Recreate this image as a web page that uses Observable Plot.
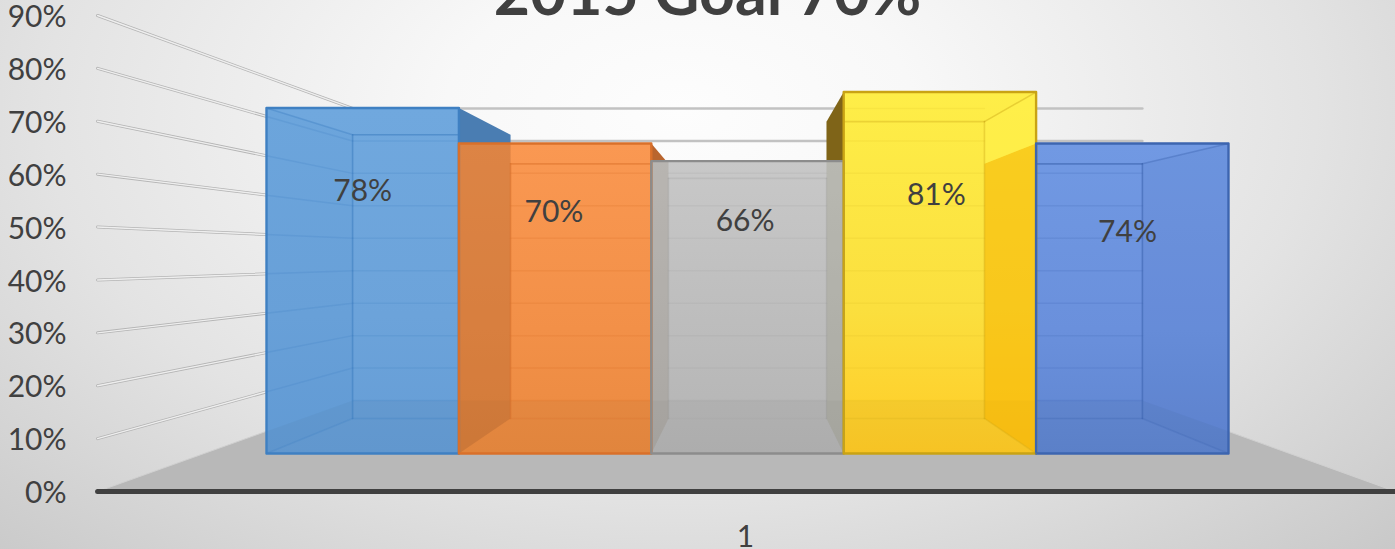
<!DOCTYPE html>
<html><head><meta charset="utf-8">
<script src="https://cdn.jsdelivr.net/npm/d3@7"></script>
<script src="https://cdn.jsdelivr.net/npm/@observablehq/plot@0.6"></script>
<style>html,body{margin:0;padding:0;overflow:hidden}svg{display:block}</style>
</head><body><div id="chart"></div>
<script>
// ---- data
const titleText = "2015 Goal 70%";
const categoryLabel = "1";
const yTicks = [0,10,20,30,40,50,60,70,80,90];
const barHeights = [78,70,66,81.6,70];
const barLabels = ["78%","70%","66%","81%","74%"];

// ---- styles and geometry of the 3-D view (in scale units: x = bar slots, y = percent)
const topCol  = ["#70a8de","#fa9852","#c8c8c8","#feee48","#7199e3"];
const midCol  = ["#6ca3da","#f29048","#bcbcbc","#fbdf3e","#6a90dc"];
const botCol  = ["#659dd6","#ea8a40","#b4b4b4","#ffcb26","#5f85d0"];
const edgeCol = ["#3f80c2","#d9702a","#8c8c8c","#c9a314","#3d65b0"];
const tipCol  = ["#4a7db2","#b9652e","#999999","#7f6418","#3d65b0"];
const innerOp = [0.6,0.5,0.18,0.35,0.6];
const gridOp  = [0.2,0.22,0.1,0.1,0.18];
const VX = 2.5, VY = 44.24, K = 0.821, BASE = 7.18, SLOPE = 0.8376;
const WALL0 = 17.2, WALLK = 0.6136, LX = -0.878, RX = 5.868;
const labelY = [56.7,52.8,51.07,56,48.93];
const barY = h => BASE + SLOPE*h;
const P = (s,h,back) => {
  const k = back ? K : 1;
  return {x: VX+(s-VX)*k, y: VY+(barY(h)-VY)*k};
};
const bx = s => VX+(s-VX)*K;
const wallBack = v => WALL0+WALLK*v;
const BL = bx(0), BR = bx(5);
const wallAt = (v,s) => v+(wallBack(v)-v)*(s-LX)/(BL-LX);

const poly = (pts,o) => Plot.line(pts,{x:"x",y:"y",curve:"linear-closed",stroke:"none",...o});
const seg = (pts,o) => Plot.line(pts,{x:"x",y:"y",...o});
const defs = () => {
  const d = d3.create("svg:defs");
  barHeights.forEach((_,i)=>{
    const g = d.append("linearGradient").attr("id","g"+i).attr("x1",0).attr("x2",0).attr("y1",0).attr("y2",1);
    g.append("stop").attr("offset","0%").attr("stop-color",topCol[i]);
    g.append("stop").attr("offset","60%").attr("stop-color",midCol[i]);
    g.append("stop").attr("offset","100%").attr("stop-color",botCol[i]);
  });
  return d.node();
};

const marks = [defs];
// floor
marks.push(poly([{x:LX,y:0},{x:BL,y:wallBack(0)},{x:BR,y:wallBack(0)},{x:RX,y:0}],{fill:"#b8b8b8",stroke:"#d0d0d0",strokeWidth:1}));
// walls
yTicks.slice(1).forEach(v=>{
  const l=[{x:LX,y:v},{x:BL,y:wallBack(v)}];
  marks.push(seg(l,{stroke:"#b4b4b4",strokeWidth:3,strokeLinecap:"round"}));
  marks.push(seg(l,{stroke:"#eeeeee",strokeWidth:1.4}));
  marks.push(seg([{x:BL,y:wallBack(v)},{x:BR,y:wallBack(v)}],{stroke:"#c2c2c2",strokeWidth:2.5}));
});
marks.push(seg([{x:LX,y:0},{x:RX,y:0}],{stroke:"#404040",strokeWidth:5,strokeLinecap:"round"}));

// bars: outer ones first, the centre last
[0,1,4,3,2].forEach(i=>{
  const h=barHeights[i];
  [i,i+1].forEach(s=>{
    marks.push(poly([P(s,h,0),P(s,h,1),P(s,0,1),P(s,0,0)],{fill:tipCol[i]}));
  });
  marks.push(poly([P(i,h,0),P(i+1,h,0),P(i+1,0,0),P(i,0,0)],{fill:`url(#g${i})`}));
});

// floor seen through the bars
marks.push(poly([
  {x:0,y:wallAt(0,0)},{x:BL,y:wallBack(0)},{x:BR,y:wallBack(0)},{x:5,y:wallAt(0,0)},
  {x:5,y:barY(0)},{x:0,y:barY(0)}],{fill:"#000",fillOpacity:0.035}));

// side faces seen through the fronts
const flatFace=(s,h,fill,op)=>poly([P(s,h,0),{x:bx(s),y:P(s,h,0).y},P(s,0,1),P(s,0,0)],{fill,fillOpacity:op});
marks.push(poly([P(0,barHeights[0],0),P(0,barHeights[0],1),P(0,0,1),P(0,0,0)],{fill:"#3f80c2",fillOpacity:0.07}));
marks.push(flatFace(1,barHeights[1],"#a8622f",0.36));
marks.push(flatFace(2,barHeights[2],"#8f8578",0.28));
marks.push(flatFace(3,barHeights[2],"#8f8f78",0.28));
marks.push(poly([P(4,barHeights[4],0),P(4,barHeights[4],1),P(4,0,1),P(4,0,0)],{fill:"#f6b400",fillOpacity:0.55}));
marks.push(poly([P(4,barHeights[3],0),P(4,barHeights[3],1),P(4,barHeights[4],1),P(4,barHeights[4],0)],{fill:"#fff04a",fillOpacity:0.55}));
marks.push(poly([P(5,barHeights[4],0),P(5,barHeights[4],1),P(5,0,1),P(5,0,0)],{fill:"#3d65b0",fillOpacity:0.09}));

// inner lines of each box and the wall grid seen through it
barHeights.forEach((h,i)=>{
  const a=Math.max(i,bx(i)), b=Math.min(i+1,bx(i+1));
  const c=edgeCol[i];
  const frontTop=barY(h);
  yTicks.forEach(v=>{
    if (wallBack(v)<frontTop) marks.push(seg([{x:a,y:wallBack(v)},{x:b,y:wallBack(v)}],{stroke:c,strokeWidth:1.5,strokeOpacity:gridOp[i]}));
  });
  marks.push(seg([{x:a,y:P(i,h,1).y},{x:b,y:P(i,h,1).y}],{stroke:c,strokeWidth:1.6,strokeOpacity:innerOp[i]}));
  marks.push(seg([{x:a,y:P(i,0,1).y},{x:b,y:P(i,0,1).y}],{stroke:c,strokeWidth:1.6,strokeOpacity:innerOp[i]*0.5}));
  [bx(i),bx(i+1)].filter(x=>x>i&&x<i+1).forEach(x=>{
    marks.push(seg([{x,y:P(i,h,1).y},{x,y:P(i,0,1).y}],{stroke:c,strokeWidth:1.6,strokeOpacity:innerOp[i]}));
  });
  // outline of the front
  marks.push(poly([P(i,h,0),P(i+1,h,0),P(i+1,0,0),P(i,0,0)],{fill:"none",stroke:c,strokeWidth:2.4}));
});
// left wall through the first bar
yTicks.slice(1).forEach(v=>{
  if (wallAt(v,0)<barY(barHeights[0]))
    marks.push(seg([{x:0,y:wallAt(v,0)},{x:BL,y:wallBack(v)}],{stroke:edgeCol[0],strokeWidth:1.5,strokeOpacity:0.22}));
});
// diagonals of the outer boxes
[[0,0],[4,5],[3,4]].forEach(([i,s])=>{
  marks.push(seg([P(s,barHeights[i],0),P(s,barHeights[i],1)],{stroke:edgeCol[i],strokeWidth:1.5,strokeOpacity:0.4}));
  marks.push(seg([P(s,0,0),P(s,0,1)],{stroke:edgeCol[i],strokeWidth:1.5,strokeOpacity:0.25}));
});

// texts
const ink="#404040";
marks.push(Plot.text(barLabels,{x:(d,i)=>0.5+i*0.9938,y:(d,i)=>labelY[i],text:d=>d,fontSize:30,fill:ink}));
marks.push(Plot.text([categoryLabel],{x:()=>2.49,y:()=>-8.6,text:d=>d,fontSize:30,fill:ink}));
marks.push(Plot.text([titleText],{x:()=>2.292,y:()=>93.8,text:d=>d,fontSize:62.5,fontWeight:700,fill:ink}));
marks.push(Plot.axisY(yTicks,{anchor:"left",tickSize:0,tickPadding:0,label:null,tickFormat:d=>d+"%",fontSize:30,color:ink,marginLeft:66,dy:2}));

document.getElementById("chart").append(Plot.plot({
  width:1395,height:549,marginLeft:66,marginRight:0,marginTop:0,marginBottom:0,
  x:{domain:[0,5],range:[266,1228],axis:null},
  y:{domain:[0,90],range:[491,15]},
  style:{background:"radial-gradient(ellipse 1060px 640px at 680px 110px,#fdfdfd 0%,#f8f8f8 22%,#e3e3e3 60%,#c6c6c6 100%)",fontFamily:"Lato",overflow:"hidden"},
  marks
}));
</script></body></html>
